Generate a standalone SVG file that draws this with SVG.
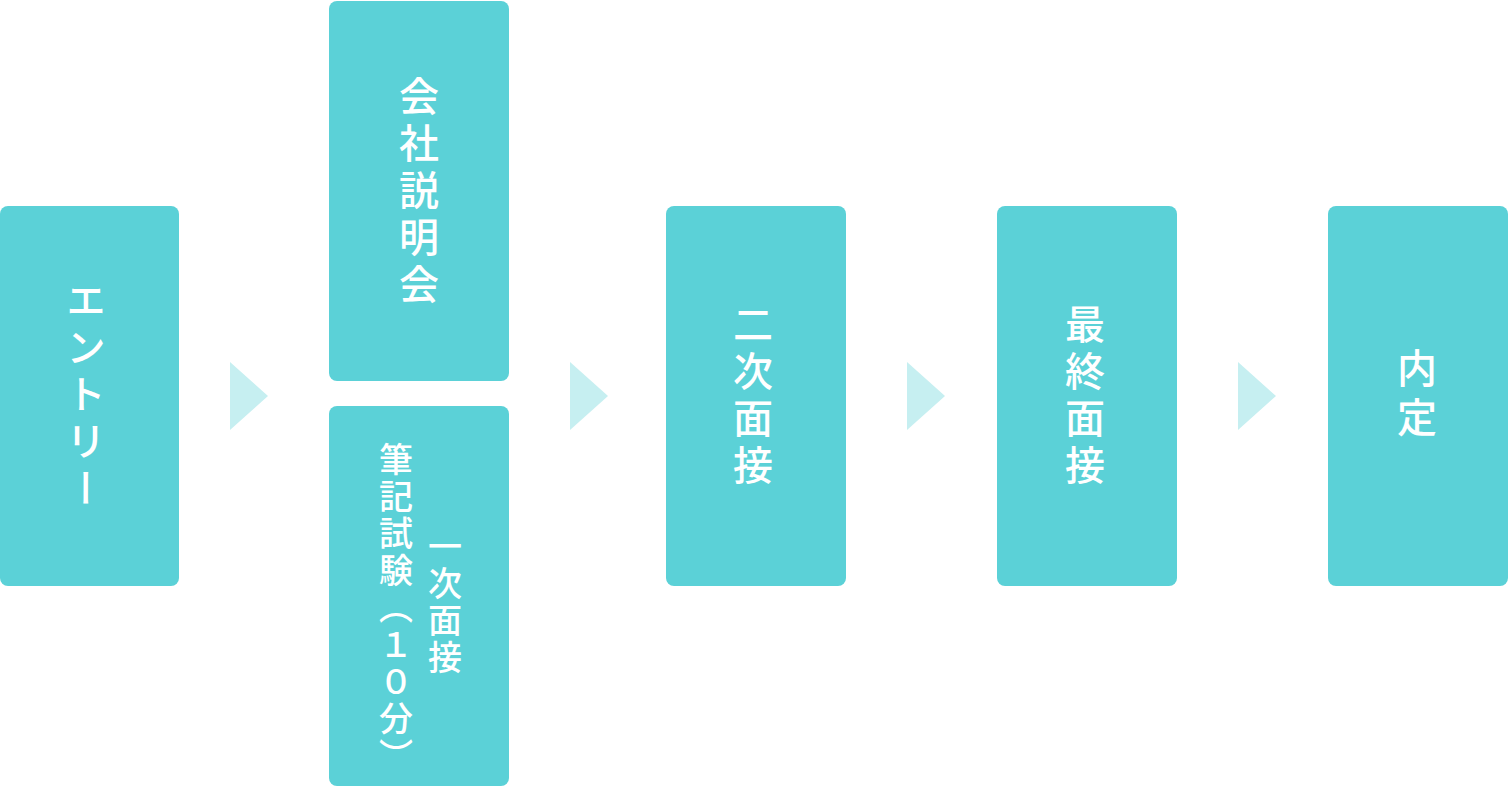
<svg xmlns="http://www.w3.org/2000/svg" width="1509" height="787" viewBox="0 0 1509 787">
<style>
.box{fill:#5BD1D7}
.arr{fill:#C6EFF1}
.t{fill:#fff;font-family:"Noto Sans CJK JP","Noto Sans",sans-serif;font-weight:500;font-size:40px;letter-spacing:7px;writing-mode:vertical-rl;text-anchor:middle}
.w{letter-spacing:9px}
.s{fill:#fff;font-family:"Noto Sans CJK JP","Noto Sans",sans-serif;font-weight:500;font-size:34px;letter-spacing:3px;writing-mode:vertical-rl;text-anchor:middle}
</style>
<rect width="1509" height="787" fill="#fff"/>
<g id="connectors">
<polygon class="arr" points="230,362 268,396 230,430"/>
<polygon class="arr" points="570,362 608,396 570,430"/>
<polygon class="arr" points="907,362 945,396 907,430"/>
<polygon class="arr" points="1238,362 1276,396 1238,430"/>
</g>
<g id="entry"><rect class="box" x="0" y="206" width="179" height="380" rx="8"/><text class="t" x="86" y="397">エントリー</text></g>
<g id="setsumeikai"><rect class="box" x="329" y="1" width="180" height="380" rx="8"/><text class="t" x="419" y="193">会社説明会</text></g>
<g id="hikki"><rect class="box" x="329" y="406" width="180" height="380" rx="8"/><text class="s" x="445" y="603">一次面接</text><text class="s" x="396" y="609">筆記試験（１０分）</text></g>
<g id="niji"><rect class="box" x="666" y="206" width="180" height="380" rx="8"/><text class="t" x="753" y="398">二次面接</text></g>
<g id="saishu"><rect class="box" x="997" y="206" width="180" height="380" rx="8"/><text class="t" x="1085" y="398">最終面接</text></g>
<g id="naitei"><rect class="box" x="1328" y="206" width="180" height="380" rx="8"/><text class="t w" x="1417" y="397">内定</text></g>
</svg>
